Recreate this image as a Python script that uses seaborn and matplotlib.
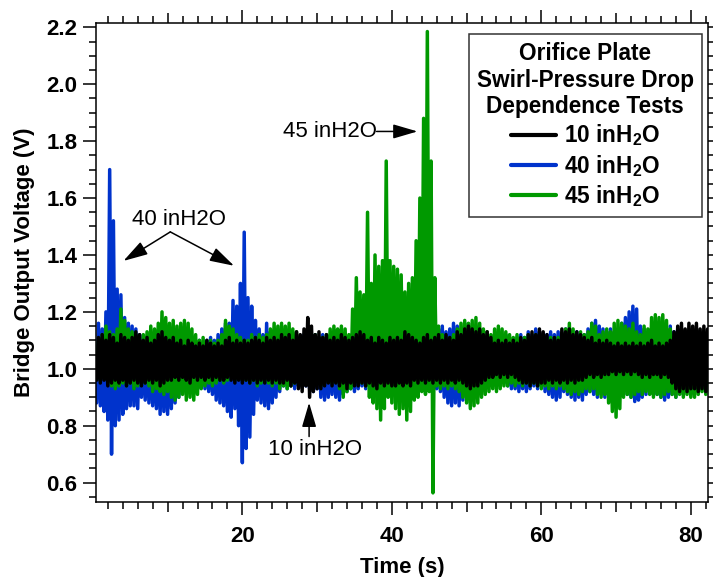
import numpy as np
import pandas as pd
import matplotlib
matplotlib.use("Agg")
import matplotlib.pyplot as plt
import seaborn as sns
from matplotlib.lines import Line2D
from matplotlib.ticker import MultipleLocator, FuncFormatter

# ---------------- data ----------------
series_names = ["10 inH2O", "40 inH2O", "45 inH2O"]
series_labels = [r"10 inH$_2$O", r"40 inH$_2$O", r"45 inH$_2$O"]

# Upper envelope of each noisy trace, sampled at t = 0.75, 1.25, ..., 82.25 s
hi_10 = [1.11, 1.12, 1.10, 1.12, 1.11, 1.09, 1.12, 1.11, 1.10, 1.11,
         1.13, 1.12, 1.10, 1.11, 1.09, 1.10, 1.12, 1.13, 1.11, 1.10,
         1.11, 1.09, 1.10, 1.08, 1.10, 1.09, 1.08, 1.09, 1.08, 1.10,
         1.09, 1.08, 1.09, 1.08, 1.10, 1.11, 1.09, 1.10, 1.09, 1.10,
         1.09, 1.10, 1.11, 1.10, 1.09, 1.11, 1.10, 1.11, 1.10, 1.12,
         1.11, 1.12, 1.10, 1.13, 1.12, 1.14, 1.18, 1.15, 1.12, 1.13,
         1.11, 1.12, 1.10, 1.11, 1.10, 1.12, 1.11, 1.10, 1.11, 1.12,
         1.13, 1.12, 1.10, 1.11, 1.09, 1.11, 1.10, 1.09, 1.11, 1.10,
         1.11, 1.10, 1.13, 1.12, 1.11, 1.10, 1.09, 1.11, 1.12, 1.10,
         1.11, 1.12, 1.10, 1.12, 1.11, 1.10, 1.13, 1.12, 1.14, 1.15,
         1.14, 1.13, 1.14, 1.12, 1.13, 1.11, 1.09, 1.10, 1.09, 1.10,
         1.09, 1.10, 1.09, 1.11, 1.10, 1.12, 1.13, 1.12, 1.14, 1.13,
         1.12, 1.10, 1.11, 1.10, 1.14, 1.13, 1.14, 1.12, 1.13, 1.12,
         1.11, 1.10, 1.11, 1.09, 1.10, 1.09, 1.10, 1.09, 1.08, 1.09,
         1.08, 1.09, 1.08, 1.09, 1.08, 1.09, 1.08, 1.09, 1.10, 1.08,
         1.09, 1.08, 1.09, 1.10, 1.13, 1.15, 1.16, 1.14, 1.16, 1.15,
         1.16, 1.14, 1.15, 1.14]
# Lower envelope, sampled at t = 0.5, 1.0, ..., 82.0 s
lo_10 = [0.96, 0.95, 0.96, 0.94, 0.95, 0.96, 0.95, 0.96, 0.94, 0.95,
         0.96, 0.95, 0.94, 0.95, 0.96, 0.95, 0.96, 0.94, 0.95, 0.96,
         0.96, 0.97, 0.96, 0.97, 0.96, 0.95, 0.97, 0.96, 0.97, 0.96,
         0.97, 0.96, 0.97, 0.96, 0.96, 0.97, 0.96, 0.95, 0.96, 0.95,
         0.96, 0.95, 0.96, 0.95, 0.96, 0.95, 0.96, 0.95, 0.96, 0.95,
         0.95, 0.96, 0.94, 0.95, 0.93, 0.92, 0.94, 0.90, 0.92, 0.93,
         0.93, 0.94, 0.95, 0.94, 0.95, 0.94, 0.95, 0.93, 0.95, 0.94,
         0.94, 0.95, 0.94, 0.95, 0.94, 0.93, 0.95, 0.94, 0.95, 0.94,
         0.94, 0.95, 0.94, 0.95, 0.94, 0.96, 0.95, 0.96, 0.95, 0.96,
         0.95, 0.96, 0.95, 0.96, 0.95, 0.96, 0.95, 0.96, 0.95, 0.94,
         0.93, 0.94, 0.94, 0.95, 0.96, 0.97, 0.97, 0.98, 0.97, 0.98,
         0.97, 0.98, 0.97, 0.96, 0.95, 0.95, 0.94, 0.95, 0.94, 0.95,
         0.95, 0.96, 0.95, 0.96, 0.95, 0.96, 0.95, 0.96, 0.95, 0.96,
         0.96, 0.97, 0.98, 0.97, 0.98, 0.97, 0.98, 0.98, 0.99, 0.98,
         0.99, 0.98, 0.99, 0.98, 0.99, 0.98, 0.97, 0.98, 0.97, 0.98,
         0.98, 0.97, 0.98, 0.97, 0.95, 0.93, 0.92, 0.93, 0.92, 0.93,
         0.93, 0.92, 0.93, 0.92]

hi_40 = [1.16, 1.14, 1.20, 1.70, 1.52, 1.28, 1.26, 1.18, 1.16, 1.15,
         1.14, 1.12, 1.10, 1.11, 1.12, 1.10, 1.13, 1.14, 1.12, 1.11,
         1.12, 1.10, 1.11, 1.10, 1.12, 1.10, 1.09, 1.10, 1.09, 1.10,
         1.11, 1.10, 1.12, 1.14, 1.16, 1.16, 1.24, 1.22, 1.30, 1.48,
         1.25, 1.22, 1.17, 1.14, 1.12, 1.16, 1.13, 1.10, 1.11, 1.10,
         1.11, 1.10, 1.12, 1.10, 1.11, 1.12, 1.11, 1.10, 1.12, 1.11,
         1.12, 1.11, 1.10, 1.12, 1.11, 1.10, 1.12, 1.11, 1.10, 1.11,
         1.12, 1.10, 1.11, 1.12, 1.10, 1.11, 1.10, 1.12, 1.11, 1.10,
         1.12, 1.11, 1.10, 1.12, 1.11, 1.10, 1.12, 1.11, 1.13, 1.12,
         1.13, 1.14, 1.15, 1.13, 1.14, 1.16, 1.15, 1.14, 1.16, 1.15,
         1.14, 1.13, 1.12, 1.11, 1.10, 1.11, 1.12, 1.11, 1.10, 1.12,
         1.11, 1.10, 1.11, 1.12, 1.11, 1.13, 1.12, 1.14, 1.13, 1.12,
         1.12, 1.13, 1.12, 1.13, 1.12, 1.14, 1.13, 1.12, 1.13, 1.12,
         1.12, 1.14, 1.16, 1.17, 1.15, 1.14, 1.13, 1.14, 1.13, 1.14,
         1.16, 1.18, 1.20, 1.22, 1.21, 1.15, 1.14, 1.13, 1.14, 1.13,
         1.14, 1.15, 1.14, 1.15, 1.13, 1.14, 1.12, 1.13, 1.12, 1.13,
         1.13, 1.12, 1.12, 1.11]
lo_40 = [0.88, 0.87, 0.85, 0.82, 0.70, 0.80, 0.82, 0.84, 0.86, 0.87,
         0.87, 0.86, 0.90, 0.89, 0.88, 0.87, 0.86, 0.84, 0.85, 0.84,
         0.86, 0.88, 0.90, 0.92, 0.93, 0.92, 0.92, 0.93, 0.94, 0.93,
         0.92, 0.91, 0.89, 0.88, 0.87, 0.85, 0.83, 0.86, 0.80, 0.67,
         0.72, 0.76, 0.84, 0.89, 0.88, 0.87, 0.86, 0.88, 0.90, 0.92,
         0.94, 0.93, 0.94, 0.93, 0.94, 0.95, 0.94, 0.93, 0.92, 0.93,
         0.90, 0.89, 0.90, 0.91, 0.90, 0.89, 0.91, 0.92, 0.93, 0.92,
         0.93, 0.94, 0.93, 0.94, 0.93, 0.92, 0.93, 0.94, 0.93, 0.94,
         0.93, 0.92, 0.91, 0.90, 0.91, 0.90, 0.92, 0.93, 0.92, 0.93,
         0.94, 0.93, 0.92, 0.90, 0.88, 0.87, 0.88, 0.87, 0.89, 0.90,
         0.90, 0.91, 0.92, 0.93, 0.93, 0.94, 0.94, 0.95, 0.94, 0.95,
         0.94, 0.93, 0.93, 0.92, 0.93, 0.92, 0.93, 0.94, 0.93, 0.94,
         0.92, 0.91, 0.90, 0.89, 0.90, 0.92, 0.91, 0.90, 0.89, 0.90,
         0.89, 0.91, 0.92, 0.91, 0.90, 0.91, 0.90, 0.91, 0.92, 0.93,
         0.93, 0.92, 0.91, 0.90, 0.885, 0.89, 0.90, 0.91, 0.92, 0.91,
         0.91, 0.90, 0.89, 0.90, 0.91, 0.90, 0.92, 0.91, 0.92, 0.91,
         0.93, 0.92, 0.93, 0.92]

hi_45 = [1.10, 1.12, 1.15, 1.13, 1.12, 1.14, 1.21, 1.17, 1.14, 1.13,
         1.12, 1.10, 1.12, 1.13, 1.15, 1.14, 1.16, 1.20, 1.18, 1.16,
         1.17, 1.15, 1.16, 1.17, 1.16, 1.14, 1.12, 1.10, 1.11, 1.09,
         1.10, 1.09, 1.10, 1.12, 1.17, 1.15, 1.14, 1.12, 1.11, 1.10,
         1.10, 1.12, 1.11, 1.12, 1.11, 1.12, 1.14, 1.16, 1.15, 1.16,
         1.15, 1.16, 1.14, 1.13, 1.11, 1.10, 1.12, 1.11, 1.12, 1.11,
         1.11, 1.12, 1.14, 1.15, 1.14, 1.15, 1.14, 1.12, 1.21, 1.32,
         1.27, 1.26, 1.55, 1.30, 1.40, 1.36, 1.38, 1.73, 1.38, 1.36,
         1.35, 1.33, 1.27, 1.30, 1.32, 1.45, 1.60, 1.88, 2.185, 1.73,
         1.32, 1.15, 1.12, 1.10, 1.11, 1.12, 1.14, 1.16, 1.17, 1.16,
         1.17, 1.18, 1.16, 1.14, 1.13, 1.12, 1.14, 1.15, 1.14, 1.13,
         1.12, 1.11, 1.12, 1.10, 1.11, 1.12, 1.11, 1.12, 1.10, 1.11,
         1.10, 1.11, 1.10, 1.11, 1.12, 1.14, 1.16, 1.14, 1.12, 1.13,
         1.12, 1.13, 1.16, 1.15, 1.12, 1.13, 1.14, 1.13, 1.16, 1.17,
         1.16, 1.15, 1.14, 1.16, 1.13, 1.12, 1.15, 1.14, 1.18, 1.19,
         1.18, 1.19, 1.17, 1.14, 1.12, 1.11, 1.12, 1.11, 1.12, 1.10,
         1.11, 1.10, 1.09, 1.10]
lo_45 = [0.97, 0.96, 0.97, 0.95, 0.94, 0.93, 0.94, 0.95, 0.94, 0.95,
         0.93, 0.94, 0.96, 0.95, 0.94, 0.92, 0.93, 0.92, 0.91, 0.92,
         0.90, 0.89, 0.90, 0.91, 0.89, 0.90, 0.89, 0.91, 0.93, 0.94,
         0.95, 0.94, 0.95, 0.96, 0.95, 0.96, 0.97, 0.96, 0.97, 0.96,
         0.96, 0.95, 0.96, 0.94, 0.95, 0.96, 0.95, 0.94, 0.95, 0.93,
         0.94, 0.93, 0.94, 0.95, 0.96, 0.95, 0.96, 0.95, 0.94, 0.95,
         0.94, 0.95, 0.96, 0.95, 0.96, 0.93, 0.90, 0.92, 0.93, 0.95,
         0.96, 0.95, 0.94, 0.90, 0.88, 0.86, 0.82, 0.86, 0.90, 0.88,
         0.86, 0.84, 0.86, 0.82, 0.85, 0.89, 0.90, 0.92, 0.91, 0.92,
         0.564, 0.94, 0.93, 0.94, 0.93, 0.94, 0.93, 0.92, 0.90, 0.88,
         0.86, 0.87, 0.88, 0.90, 0.91, 0.92, 0.93, 0.92, 0.93, 0.94,
         0.94, 0.95, 0.94, 0.95, 0.94, 0.95, 0.94, 0.95, 0.94, 0.93,
         0.94, 0.93, 0.94, 0.93, 0.94, 0.93, 0.92, 0.91, 0.92, 0.91,
         0.92, 0.93, 0.92, 0.93, 0.91, 0.90, 0.91, 0.88, 0.85, 0.83,
         0.86, 0.90, 0.91, 0.90, 0.91, 0.92, 0.91, 0.92, 0.91, 0.90,
         0.91, 0.90, 0.91, 0.92, 0.91, 0.90, 0.91, 0.90, 0.91, 0.90,
         0.90, 0.91, 0.92, 0.91]

# sample times: 0.25 s apart, lower / upper envelope samples alternate
time_s = np.arange(2, 330) * 0.25

envelopes = {"10 inH2O": (lo_10, hi_10),
             "40 inH2O": (lo_40, hi_40),
             "45 inH2O": (lo_45, hi_45)}

frames = []
for name, (lo, hi) in envelopes.items():
    v = np.empty(len(time_s))
    v[0::2] = lo
    v[1::2] = hi
    frames.append(pd.DataFrame({"Time": time_s, "Voltage": v, "Series": name}))
df = pd.concat(frames, ignore_index=True)

colors = {"10 inH2O": "#000000", "40 inH2O": "#0033cc", "45 inH2O": "#009900"}

# ---------------- style ----------------
sns.set_style("ticks")
plt.rcParams["font.family"] = ["Liberation Sans", "DejaVu Sans"]
plt.rcParams["mathtext.fontset"] = "custom"
plt.rcParams["mathtext.rm"] = "Liberation Sans:bold"
plt.rcParams["mathtext.it"] = "Liberation Sans:bold"
plt.rcParams["mathtext.bf"] = "Liberation Sans:bold"
for key in ["text.color", "axes.labelcolor", "xtick.color", "ytick.color",
            "axes.edgecolor"]:
    plt.rcParams[key] = "black"

fig = plt.figure(figsize=(7.13, 5.77), dpi=100)
ax = fig.add_axes([96 / 713, (577 - 501.7) / 577, 612 / 713, 478.4 / 577])

sns.lineplot(data=df, x="Time", y="Voltage", hue="Series",
             hue_order=["40 inH2O", "45 inH2O", "10 inH2O"],
             palette=colors, estimator=None, errorbar=None,
             linewidth=2.5, legend=False, ax=ax)

ax.set_xlim(0.42, 82.3)
ax.set_ylim(0.533, 2.214)

FS = 16
ax.set_xlabel("Time (s)", fontsize=FS, fontweight="bold", labelpad=7, color="black")
ax.set_ylabel("Bridge Output Voltage (V)", fontsize=FS, fontweight="bold",
              labelpad=8, color="black")

for sp in ax.spines.values():
    sp.set_visible(True)
    sp.set_linewidth(1.1)
    sp.set_color("black")

ax.xaxis.set_major_locator(MultipleLocator(10))
ax.xaxis.set_major_formatter(FuncFormatter(lambda v, p: f"{v:.0f}" if round(v) % 20 == 0 else ""))
ax.xaxis.set_minor_locator(MultipleLocator(2))
ax.yaxis.set_major_locator(MultipleLocator(0.2))
ax.yaxis.set_major_formatter(FuncFormatter(lambda v, p: f"{v:.1f}"))
ax.yaxis.set_minor_locator(MultipleLocator(0.05))

ax.tick_params(which="both", direction="out", top=True, right=True,
               width=1.1, color="black", labelcolor="black")
ax.tick_params(which="major", length=9.4)
ax.tick_params(which="minor", length=5)
ax.tick_params(axis="x", which="major", pad=8, labelsize=FS)
ax.tick_params(axis="y", which="major", pad=4, labelsize=FS)
for lab in ax.get_xticklabels() + ax.get_yticklabels():
    lab.set_fontweight("bold")

# medium-length ticks at 10, 30, 50, 70
for tk in ax.xaxis.get_major_ticks():
    if round(tk.get_loc()) % 20 == 10:
        tk.tick1line.set_markersize(7)
        tk.tick2line.set_markersize(7)

# ---------------- annotations ----------------
ap = dict(arrowstyle="-|>,head_length=0.75,head_width=0.22", color="black",
          lw=1.1, shrinkA=0, shrinkB=0, mutation_scale=20)
ax.text(11.56, 1.526, "40 inH2O", fontsize=FS, ha="center", va="center", color="black")
ax.annotate("", xy=(4.09, 1.379), xytext=(10.36, 1.481), arrowprops=ap)
ax.annotate("", xy=(18.89, 1.362), xytext=(10.36, 1.481), arrowprops=ap)
ax.text(31.69, 1.834, "45 inH2O", fontsize=FS, ha="center", va="center", color="black")
ax.annotate("", xy=(43.43, 1.834), xytext=(37.96, 1.834), arrowprops=ap)
ax.text(29.69, 0.715, "10 inH2O", fontsize=FS, ha="center", va="center", color="black")
ax.annotate("", xy=(28.93, 0.881), xytext=(28.93, 0.762), arrowprops=ap)

# ---------------- legend ----------------
LFS = 16.3
handles = [Line2D([], [], color=colors[n], lw=3) for n in series_names]
leg = ax.legend(handles, series_labels,
                title="Orifice Plate\nSwirl-Pressure Drop\nDependence Tests",
                loc="upper right", bbox_to_anchor=(0.990, 0.978), borderaxespad=0,
                frameon=True, fancybox=False, edgecolor="black",
                prop={"size": LFS, "weight": "bold"},
                title_fontproperties={"size": LFS, "weight": "bold"},
                handlelength=2.0, handletextpad=0.35, labelspacing=0.19,
                borderpad=0.36)
leg.get_frame().set_linewidth(1.1)
leg.get_title().set_multialignment("center")
leg.get_title().set_linespacing(1.2)
for t in leg.get_texts():
    t.set_color("black")
leg.get_title().set_color("black")

fig.savefig("out.png", dpi=100)
